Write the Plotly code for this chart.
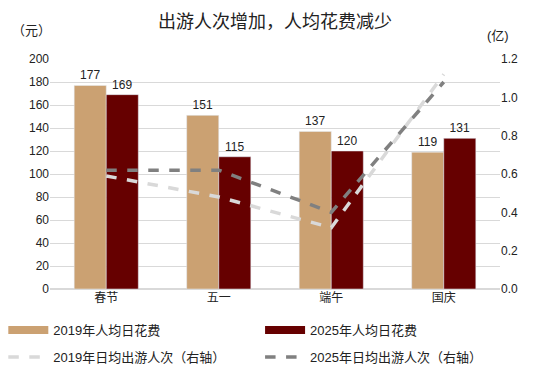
import plotly.graph_objects as go

categories = ["春节", "五一", "端午", "国庆"]
spend_2019 = [177, 151, 137, 119]
spend_2025 = [169, 115, 120, 131]
trips_2019 = [0.59, 0.48, 0.32, 1.12]
trips_2025 = [0.62, 0.62, 0.40, 1.08]

tan = "#CBA172"
dark = "#660000"
light_gray = "#D9D9D9"
mid_gray = "#808080"
font_fam = "Liberation Sans, Arial, Noto Sans CJK SC, sans-serif"

fig = go.Figure()
fig.add_trace(go.Bar(x=categories, y=spend_2019, marker_color=tan, name="2019年人均日花费",
                     text=spend_2019, textposition="outside", showlegend=False,
                     textfont=dict(size=12, color="#222")))
fig.add_trace(go.Bar(x=categories, y=spend_2025, marker_color=dark, name="2025年人均日花费",
                     text=spend_2025, textposition="outside", showlegend=False,
                     textfont=dict(size=12, color="#222")))
fig.add_trace(go.Scatter(x=categories, y=trips_2019, yaxis="y2", mode="lines",
                         line=dict(color=light_gray, width=3.5, dash="dash"),
                         name="2019年日均出游人次（右轴）", showlegend=False))
fig.add_trace(go.Scatter(x=categories, y=trips_2025, yaxis="y2", mode="lines",
                         line=dict(color=mid_gray, width=3.5, dash="dash"),
                         name="2025年日均出游人次（右轴）", showlegend=False))

# legend entries (two columns = two legends)
fig.add_trace(go.Scatter(x=[None], y=[None], mode="lines", line=dict(color=tan, width=8),
                         name="2019年人均日花费", legend="legend", legendgroup="a"))
fig.add_trace(go.Scatter(x=[None], y=[None], mode="lines",
                         line=dict(color=light_gray, width=3.5, dash="dash"),
                         name="2019年日均出游人次（右轴）", legend="legend", legendgroup="b"))
fig.add_trace(go.Scatter(x=[None], y=[None], mode="lines", line=dict(color=dark, width=8),
                         name="2025年人均日花费", legend="legend2", legendgroup="c"))
fig.add_trace(go.Scatter(x=[None], y=[None], mode="lines",
                         line=dict(color=mid_gray, width=3.5, dash="dash"),
                         name="2025年日均出游人次（右轴）", legend="legend2", legendgroup="d"))

leg_common = dict(orientation="v", xref="container", yref="container", y=0.175,
                  xanchor="left", yanchor="top", font=dict(size=13), tracegroupgap=7,
                  itemwidth=40, bgcolor="rgba(0,0,0,0)")

fig.update_layout(
    width=551, height=382,
    margin=dict(l=50, r=51, t=59, b=93, autoexpand=False),
    paper_bgcolor="white", plot_bgcolor="white",
    font=dict(family=font_fam, size=12, color="#222"),
    title=dict(text="出游人次增加，人均花费减少", x=0.5, xref="paper", xanchor="center",
               y=0.942, yref="container", yanchor="middle",
               font=dict(size=18, color="#222")),
    barmode="group", bargap=0.43, bargroupgap=0,
    xaxis=dict(showgrid=False, showline=False, ticks="", tickfont=dict(size=12)),
    yaxis=dict(range=[0, 200], dtick=20, showgrid=True, gridcolor="#D9D9D9", gridwidth=1,
               zeroline=True, zerolinecolor="#D9D9D9", tickfont=dict(size=12), ticks=""),
    yaxis2=dict(range=[0, 1.2], dtick=0.2, overlaying="y", side="right", showgrid=False,
                tickformat=".1f", zeroline=False, tickfont=dict(size=12), ticks=""),
    legend=dict(x=0.006, **leg_common),
    legend2=dict(x=0.472, **leg_common),
    annotations=[
        dict(text="（元）", xref="paper", yref="paper", x=-0.09, y=1.122,
             xanchor="left", yanchor="middle", showarrow=False, font=dict(size=13)),
        dict(text="(亿)", xref="paper", yref="paper", x=0.996, y=1.1,
             xanchor="center", yanchor="middle", showarrow=False, font=dict(size=13)),
    ],
)

fig.write_html("out.html", config={"displayModeBar": False},
               post_script="document.body.style.margin='0';")
